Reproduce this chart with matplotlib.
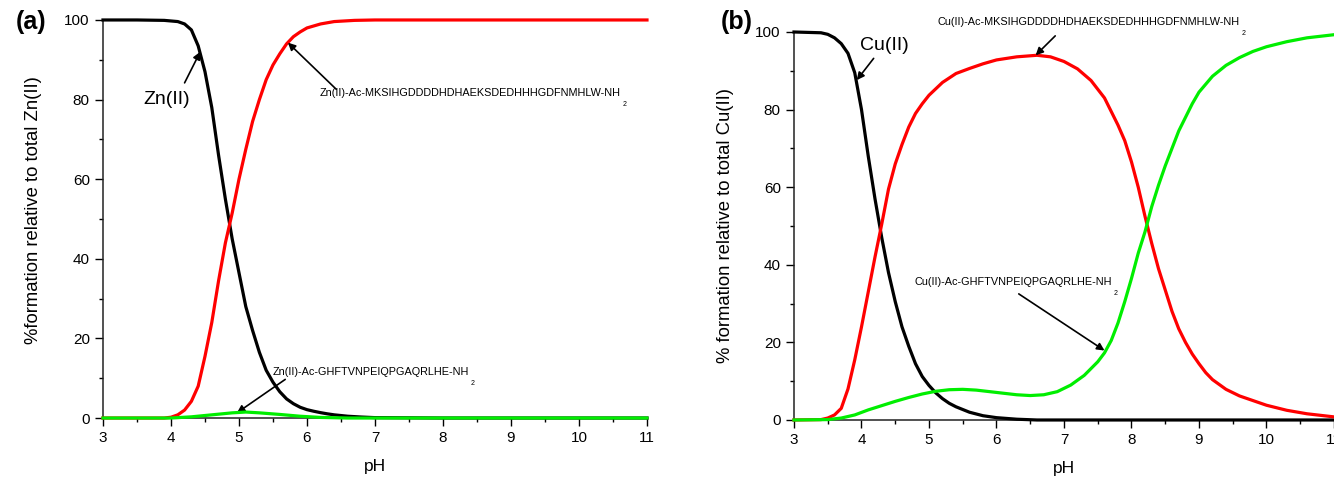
import matplotlib
matplotlib.use('Agg')
import matplotlib.pyplot as plt

plt.rcParams['font.family'] = ['Liberation Sans', 'DejaVu Sans']

# species distribution, Zn(II) system
zn_ph = [3.0, 3.5, 3.9, 4.1, 4.2, 4.3, 4.4, 4.5, 4.6, 4.7, 4.8, 4.9, 5.0, 5.1, 5.2,
         5.3, 5.4, 5.5, 5.6, 5.7, 5.8, 5.9, 6.0, 6.1, 6.2, 6.3, 6.4, 6.6, 6.8, 7.0,
         8.0, 11.0]
zn_free = [100, 100, 99.9, 99.6, 99, 97.5, 93.5, 87, 78, 66, 55, 45, 36.5, 28, 22,
           16.5, 12, 9, 6.6, 4.8, 3.6, 2.7, 2.1, 1.7, 1.35, 1.05, 0.8, 0.45, 0.25, 0.1,
           0, 0]

zn_mks_ph = [3.0, 3.9, 4.0, 4.1, 4.2, 4.3, 4.4, 4.5, 4.6, 4.7, 4.8, 4.9, 5.0, 5.1, 5.2,
             5.3, 5.4, 5.5, 5.6, 5.7, 5.8, 5.9, 6.0, 6.2, 6.4, 6.7, 7.0, 11.0]
zn_mks = [0, 0, 0.2, 0.8, 2, 4.2, 8, 15.5, 24, 34.5, 44, 51.5, 60, 67.5, 74.5,
          80, 85, 88.7, 91.5, 94, 95.8, 97, 98, 99, 99.6, 99.9, 100, 100]

zn_ghf_ph = [3.0, 4.0, 4.3, 4.6, 4.9, 5.1, 5.3, 5.6, 5.9, 6.2, 6.6, 11.0]
zn_ghf = [0, 0, 0.3, 0.8, 1.3, 1.5, 1.3, 0.9, 0.45, 0.15, 0, 0]

# species distribution, Cu(II) system
cu_free_ph = [3.0, 3.4, 3.5, 3.6, 3.7, 3.8, 3.9, 4.0, 4.1, 4.2, 4.3, 4.4, 4.5, 4.6, 4.7,
              4.8, 4.9, 5.0, 5.1, 5.2, 5.3, 5.4, 5.6, 5.8, 6.0, 6.3, 6.6, 11.0]
cu_free = [100, 99.8, 99.4, 98.5, 97, 94.5, 89.5, 80, 68, 57, 47, 38, 30.5, 24, 19,
           14.5, 11.2, 8.9, 7.0, 5.5, 4.3, 3.4, 2.0, 1.1, 0.6, 0.2, 0, 0]

cu_mks_ph = [3.0, 3.4, 3.5, 3.6, 3.7, 3.8, 3.9, 4.0, 4.1, 4.2, 4.3, 4.4, 4.5, 4.6, 4.7,
             4.8, 4.9, 5.0, 5.2, 5.4, 5.6, 5.8, 6.0, 6.3, 6.6, 6.8, 7.0, 7.2, 7.4, 7.6,
             7.8, 7.9, 8.0, 8.1, 8.2, 8.3, 8.4, 8.5, 8.6, 8.7, 8.8, 8.9, 9.0, 9.1, 9.2,
             9.4, 9.6, 9.8, 10.0, 10.3, 10.6, 11.0]
cu_mks = [0, 0.1, 0.5, 1.3, 3, 8, 15.5, 24, 33, 42, 50.5, 59.5, 66, 71, 75.5,
          79, 81.5, 83.7, 87, 89.3, 90.6, 91.8, 92.8, 93.6, 94, 93.6, 92.4, 90.5, 87.5, 83,
          76, 72, 66.5, 60, 52.5, 45.5, 39, 33.5, 28, 23.5, 20, 17, 14.5, 12.2, 10.4,
          7.9, 6.2, 5, 3.8, 2.5, 1.6, 0.8]

cu_ghf_ph = [3.0, 3.5, 3.7, 3.9, 4.1, 4.3, 4.5, 4.7, 4.9, 5.1, 5.3, 5.5, 5.7, 5.9, 6.1,
             6.3, 6.5, 6.7, 6.9, 7.1, 7.3, 7.5, 7.6, 7.7, 7.8, 7.9, 8.0, 8.1, 8.2, 8.3,
             8.4, 8.5, 8.6, 8.7, 8.8, 8.9, 9.0, 9.2, 9.4, 9.6, 9.8, 10.0, 10.3, 10.6, 11.0]
cu_ghf = [0, 0.1, 0.5, 1.3, 2.6, 3.7, 4.8, 5.8, 6.7, 7.4, 7.8, 7.9, 7.7, 7.3, 6.9,
          6.5, 6.3, 6.5, 7.3, 9.0, 11.5, 15, 17.3, 20.5, 25, 30.5, 36.5, 43, 48.5, 55,
          60.5, 65.5, 70, 74.5, 78, 81.5, 84.5, 88.6, 91.4, 93.4, 95, 96.2, 97.5, 98.5, 99.3]

LW = 2.3
RED = '#ff0000'
GREEN = '#00ee00'
pep_font = 7.8
arrow = dict(arrowstyle='-|>', color='black', lw=1.2, mutation_scale=11, shrinkA=0, shrinkB=0)


def style_axes(ax):
    ax.set_xlim(3, 11)
    ax.set_ylim(0, 100)
    ax.set_xticks(range(3, 12))
    ax.set_xticks([x + 0.5 for x in range(3, 11)], minor=True)
    ax.set_yticks(range(0, 101, 20))
    ax.set_yticks(range(10, 100, 20), minor=True)
    for s in ('top', 'right'):
        ax.spines[s].set_visible(False)
    for s in ('left', 'bottom'):
        ax.spines[s].set_linewidth(1.1)
        ax.spines[s].set_color('#222222')
    ax.tick_params(which='major', direction='out', length=5.5, width=1.0, labelsize=11, pad=4)
    ax.tick_params(which='minor', direction='out', length=3, width=1.0)
    ax.set_xlabel('pH', fontsize=12.5, labelpad=10)


def peptide(ax, x, y, name, **kw):
    # peptide name followed by a small, low-set "2" of the NH2 terminus
    t = ax.text(x, y, name + '-NH', fontsize=pep_font, ha='left', va='center', **kw)
    ax.annotate('2', xy=(1, 0), xycoords=t, xytext=(1.2, -4.5), textcoords='offset points',
                fontsize=5, ha='left', va='center', annotation_clip=False)
    return t


fig = plt.figure(figsize=(13.34, 4.79), dpi=100)
ax1 = fig.add_axes([0.0772, 0.1273, 0.4078, 0.831])
ax2 = fig.add_axes([0.5952, 0.1232, 0.4048, 0.810])

# (a) Zn(II)
ax1.plot(zn_ph, zn_free, color='black', lw=LW, clip_on=False, zorder=3)
ax1.plot(zn_mks_ph, zn_mks, color=RED, lw=LW, clip_on=False, zorder=3)
ax1.plot(zn_ghf_ph, zn_ghf, color=GREEN, lw=LW, clip_on=False, zorder=4)
style_axes(ax1)
ax1.set_ylabel('%formation relative to total Zn(II)', fontsize=13.3)
ax1.yaxis.set_label_coords(-0.113, 0.523)

ax1.text(3.94, 80, 'Zn(II)', fontsize=14, ha='center', va='center')
ax1.annotate('', xy=(4.43, 92), xytext=(4.2, 84.2), arrowprops=arrow)
peptide(ax1, 6.19, 81.6, 'Zn(II)-Ac-MKSIHGDDDDHDHAEKSDEDHHHGDFNMHLW')
ax1.annotate('', xy=(5.72, 94.3), xytext=(6.43, 82.6), arrowprops=arrow)
peptide(ax1, 5.5, 11.6, 'Zn(II)-Ac-GHFTVNPEIQPGAQRLHE')
ax1.annotate('', xy=(4.97, 1.3), xytext=(5.68, 9.7), arrowprops=arrow)
fig.text(0.012, 0.955, '(a)', fontsize=18, fontweight='bold', va='center', ha='left')

# (b) Cu(II)
ax2.plot(cu_free_ph, cu_free, color='black', lw=LW, clip_on=False, zorder=3)
ax2.plot(cu_mks_ph, cu_mks, color=RED, lw=LW, clip_on=False, zorder=3)
ax2.plot(cu_ghf_ph, cu_ghf, color=GREEN, lw=LW, clip_on=False, zorder=4)
style_axes(ax2)
ax2.set_ylabel('% formation relative to total Cu(II)', fontsize=13.3, labelpad=15)

ax2.text(4.34, 96.4, 'Cu(II)', fontsize=14, ha='center', va='center')
ax2.annotate('', xy=(3.93, 87.6), xytext=(4.18, 93.2), arrowprops=arrow)
peptide(ax2, 5.13, 102.5, 'Cu(II)-Ac-MKSIHGDDDDHDHAEKSDEDHHHGDFNMHLW', clip_on=False)
ax2.annotate('', xy=(6.58, 94.0), xytext=(6.87, 99.0), arrowprops=arrow, annotation_clip=False)
peptide(ax2, 4.78, 35.5, 'Cu(II)-Ac-GHFTVNPEIQPGAQRLHE')
ax2.annotate('', xy=(7.6, 17.9), xytext=(6.33, 32.5), arrowprops=arrow)
fig.text(0.54, 0.955, '(b)', fontsize=18, fontweight='bold', va='center', ha='left')

fig.savefig('out.png', dpi=100)
